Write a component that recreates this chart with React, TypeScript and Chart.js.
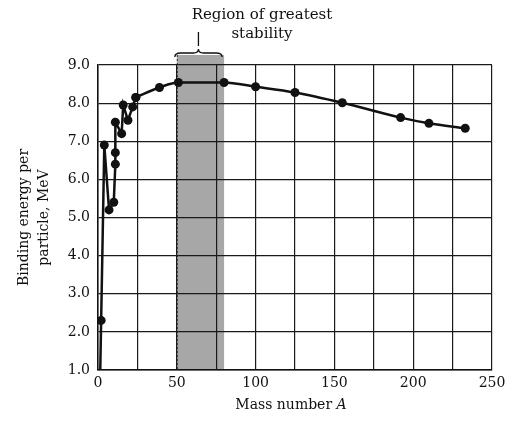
import React, { useEffect, useRef } from "react";
import { Chart, registerables } from "chart.js";

Chart.register(...registerables);

// Steep light-nuclei part (A, MeV)
const lightA = [1, 2, 4, 7, 10, 11, 11, 11, 15, 16, 19, 22, 24];
const lightE = [0, 2.3, 6.9, 5.2, 5.4, 6.4, 6.7, 7.5, 7.2, 7.95, 7.55, 7.9, 8.15];
const lightMarker = [false, true, true, true, true, true, true, true, true, true, true, true, true];

// Smooth curve for heavier nuclei
const heavyA = [24, 39, 51, 80, 100, 125, 155, 192, 210, 233];
const heavyE = [8.15, 8.41, 8.54, 8.54, 8.43, 8.28, 8.01, 7.62, 7.47, 7.34];

const bandRange = [50, 80];
const yTitleLines = ["Binding energy per", "particle, MeV"];
const xTitleMain = "Mass number ";
const xTitleItalic = "A";
const annotationLines = ["Region of greatest", "stability"];

const FONT = "'DejaVu Serif', 'Liberation Serif', serif";

export default function App() {
  const ref = useRef<HTMLCanvasElement | null>(null);

  useEffect(() => {
    if (!ref.current) return;

    const bandPlugin = {
      id: "band",
      beforeDraw(chart: any) {
        const { ctx, chartArea, scales } = chart;
        const x0 = scales.x.getPixelForValue(bandRange[0]);
        const x1 = scales.x.getPixelForValue(bandRange[1]);
        ctx.save();
        ctx.fillStyle = "#a7a7a7";
        ctx.fillRect(x0, chartArea.top - 10, x1 - x0, chartArea.bottom - chartArea.top + 10);
        ctx.strokeStyle = "#333";
        ctx.lineWidth = 1;
        ctx.setLineDash([2, 2]);
        ctx.beginPath();
        ctx.moveTo(x0 + 0.5, chartArea.top - 10);
        ctx.lineTo(x0 + 0.5, chartArea.bottom);
        ctx.stroke();
        ctx.restore();
      },
    };

    const annotPlugin = {
      id: "annot",
      afterDraw(chart: any) {
        const { ctx, chartArea, scales } = chart;
        const x0 = scales.x.getPixelForValue(bandRange[0]) - 2;
        const x1 = scales.x.getPixelForValue(bandRange[1]) - 2;
        const xm = (x0 + x1) / 2;
        const yb = chartArea.top - 12;
        ctx.save();
        ctx.strokeStyle = "#111";
        ctx.lineWidth = 1.3;
        // curly brace
        ctx.beginPath();
        ctx.moveTo(x0, yb + 4);
        ctx.quadraticCurveTo(x0, yb, x0 + 6, yb);
        ctx.lineTo(xm - 5, yb);
        ctx.quadraticCurveTo(xm, yb, xm, yb - 4);
        ctx.quadraticCurveTo(xm, yb, xm + 5, yb);
        ctx.lineTo(x1 - 6, yb);
        ctx.quadraticCurveTo(x1, yb, x1, yb + 4);
        ctx.stroke();
        // pointer line
        ctx.beginPath();
        ctx.moveTo(xm, yb - 7);
        ctx.lineTo(xm, yb - 21);
        ctx.stroke();
        ctx.fillStyle = "#111";
        ctx.font = `15px ${FONT}`;
        ctx.textAlign = "center";
        ctx.textBaseline = "middle";
        ctx.fillText(annotationLines[0], 262, 15);
        ctx.fillText(annotationLines[1], 262, 34);

        // x-axis title with italic A
        const cx = (chartArea.left + chartArea.right) / 2 - 4;
        const ty = 405;
        ctx.font = `14px ${FONT}`;
        const w1 = ctx.measureText(xTitleMain).width;
        ctx.font = `italic 14px ${FONT}`;
        const w2 = ctx.measureText(xTitleItalic).width;
        const start = cx - (w1 + w2) / 2;
        ctx.textAlign = "left";
        ctx.font = `14px ${FONT}`;
        ctx.fillText(xTitleMain, start, ty);
        ctx.font = `italic 14px ${FONT}`;
        ctx.fillText(xTitleItalic, start + w1, ty);
        ctx.restore();
      },
    };

    const lightData = lightA.map((a, i) => ({ x: a, y: lightE[i] }));
    const heavyData = heavyA.map((a, i) => ({ x: a, y: heavyE[i] }));

    const chart = new Chart(ref.current, {
      type: "scatter",
      data: {
        datasets: [
          {
            data: lightData,
            showLine: true,
            borderColor: "#111",
            backgroundColor: "#111",
            borderWidth: 2.5,
            pointRadius: lightMarker.map((m) => (m ? 4.5 : 0)),
            pointBorderWidth: 0,
            tension: 0,
          },
          {
            data: heavyData,
            showLine: true,
            borderColor: "#111",
            backgroundColor: "#111",
            borderWidth: 2.5,
            pointRadius: 4.5,
            pointBorderWidth: 0,
            cubicInterpolationMode: "monotone",
          },
        ],
      },
      options: {
        animation: false,
        responsive: true,
        maintainAspectRatio: false,
        layout: { padding: { top: 65, right: 27, left: 0, bottom: 0 } },
        plugins: {
          legend: { display: false },
          tooltip: { enabled: false },
        },
        scales: {
          x: {
            type: "linear",
            min: 0,
            max: 250,
            afterFit(scale: any) {
              scale.height = 53;
            },
            ticks: {
              stepSize: 25,
              autoSkip: false,
              maxRotation: 0,
              padding: 5,
              color: "#111",
              font: { family: FONT, size: 14 },
              callback: (v: any) => (Number(v) % 50 === 0 ? String(v) : ""),
            },
            grid: { color: "#1a1a1a", lineWidth: 1.2, drawTicks: false },
            border: { color: "#111", width: 1.5 },
          },
          y: {
            type: "linear",
            min: 1,
            max: 9,
            afterFit(scale: any) {
              scale.width = 98;
            },
            ticks: {
              stepSize: 1,
              padding: 8,
              color: "#111",
              font: { family: FONT, size: 14 },
              callback: (v: any) => Number(v).toFixed(1),
            },
            grid: { color: "#1a1a1a", lineWidth: 1.2, drawTicks: false },
            border: { color: "#111", width: 1.5 },
            title: {
              display: true,
              text: yTitleLines,
              color: "#111",
              font: { family: FONT, size: 14, lineHeight: 1.45 },
              padding: { top: 14, bottom: 0 },
            },
          },
        },
      },
      plugins: [bandPlugin, annotPlugin],
    });

    return () => chart.destroy();
  }, []);

  return (
    <div style={{ position: "fixed", left: 0, top: 0, width: 519, height: 423, background: "#fff" }}>
      <canvas ref={ref} />
    </div>
  );
}
